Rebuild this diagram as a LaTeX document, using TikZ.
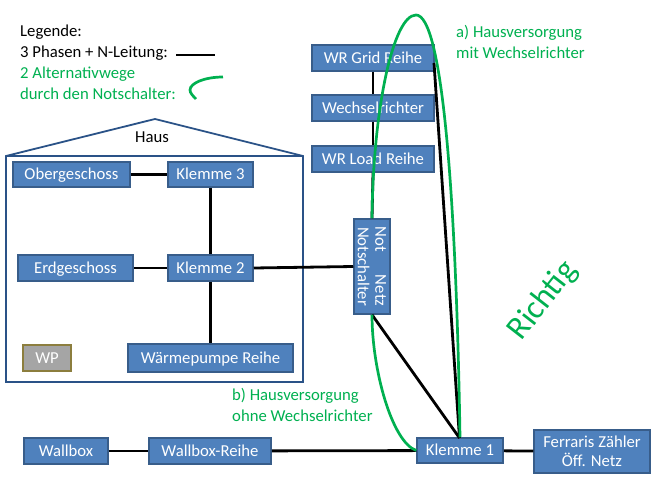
\documentclass[tikz,border=0pt]{standalone}
\usepackage{fontspec}
\setmainfont{Carlito}
\definecolor{boxfill}{HTML}{4F81BD}
\definecolor{boxline}{HTML}{385D8A}
\definecolor{houseline}{HTML}{2A5287}
\definecolor{grn}{HTML}{00B050}
\definecolor{wpfill}{HTML}{A5A5A5}
\definecolor{wpline}{HTML}{8C7E3E}
\tikzset{
  x=1pt,y=-1pt,
  bx/.style={draw=boxline,line width=1.5pt,fill=boxfill,text=white,inner sep=0pt,align=center,font=\fontsize{16.7}{18.5}\selectfont},
  bxone/.style={bx,execute at begin node={\rule[-3pt]{0pt}{16.6pt}}},
  wire/.style={black,line width=2.8pt},
  alt/.style={grn,line width=2.7pt},
  lbl/.style={anchor=west,inner sep=0pt,font=\fontsize{16.7}{20.5}\selectfont,align=left},
}
\begin{document}
\begin{tikzpicture}
\useasboundingbox (0,0) rectangle (666,500);
% house
\draw[houseline,line width=1.8pt,line join=miter] (6,156) -- (155,119) -- (303,156) -- (303,382) -- (6,382) -- cycle;
\draw[houseline,line width=1.8pt] (6,156) -- (303,156);
% free ends
\coordinate (gridout) at (434,63);
\coordinate (k1top) at (459.5,438);
\coordinate (legA) at (176,55);
\coordinate (legB) at (215,55);
\coordinate (leg1) at (223,77);
\coordinate (leg2) at (190,90);
\coordinate (leg3) at (196,99);
% boxes
\node[bxone,minimum width=122pt,minimum height=26pt] (grid) at (373,58) {WR Grid Reihe};
\node[bxone,minimum width=122pt,minimum height=26pt] (wr) at (373,108) {Wechselrichter};
\node[bxone,minimum width=122pt,minimum height=26pt] (load) at (373,159) {WR Load Reihe};
\node[bx,rotate=-90,minimum width=95pt,minimum height=36pt] (not) at (372,266.5) {Not\hspace{23pt}Netz\\[-1pt]Notschalter};
\node[bxone,minimum width=86pt,minimum height=25pt] (k1) at (460,450.5) {Klemme 1};
\node[bx,minimum width=116pt,minimum height=43pt] (ferraris) at (592,451.5) {Ferraris Zähler\\Öff. Netz};
\node[bxone,minimum width=84pt,minimum height=26pt] (wallbox) at (66,451) {Wallbox};
\node[bxone,minimum width=122pt,minimum height=26pt] (wbr) at (210,451) {Wallbox-Reihe};
\node[bxone,minimum width=117pt,minimum height=25pt] (og) at (71.5,174.5) {Obergeschoss};
\node[bxone,minimum width=85pt,minimum height=25pt] (k3) at (210.5,174.5) {Klemme 3};
\node[bxone,minimum width=115pt,minimum height=26pt] (eg) at (75.5,268) {Erdgeschoss};
\node[bxone,minimum width=85pt,minimum height=26pt] (k2) at (210.5,268) {Klemme 2};
\node[bxone,minimum width=165pt,minimum height=28pt] (wpr) at (210.5,358) {Wärmepumpe Reihe};
\node[bxone,draw=wpline,fill=wpfill,minimum width=48pt,minimum height=26pt] (wp) at (47,358) {WP};
% wires
\draw[wire] (og) -- (k3);
\draw[wire] (k3) -- (k2);
\draw[wire] (k2) -- (wpr);
\draw[wire] (eg) -- (k2);
\draw[wire] (k2.east) -- (not.south);
\draw[wire] (wallbox) -- (wbr);
\draw[wire] (wbr) -- (k1);
\draw[wire] (k1) -- (ferraris);
\draw[wire] (grid.south) -- (wr.north);
\draw[wire] (wr.south) -- (load.north);
\draw[wire] (load.south) -- (not.west);
\draw[wire] (gridout) -- (k1top);
\draw[wire] (not.east) -- (k1top);
\draw[wire] (legA) -- (legB);
% green curves
\draw[alt] (not.west) .. controls (373,110) and (393,15) .. (416,15) .. controls (442,15) and (456,190) .. (k1.north);
\draw[alt] (not.east) .. controls (372,370) and (392,442) .. (k1.west);
\draw[alt] (leg1) .. controls (205,77) and (190,83) .. (leg2) .. controls (190,93) and (193,96) .. (leg3);
% texts
\node[lbl] (t1) at (20,32) {Legende:};
\node[lbl] (t2) at (20,53) {3 Phasen + N-Leitung:};
\node[lbl,text=grn] (t3) at (20,83.5) {2 Alternativwege\\durch den Notschalter:};
\node[lbl,text=grn] (t4) at (456,42) {a) Hausversorgung\\mit Wechselrichter};
\node[lbl,text=grn] (t5) at (232,405) {b) Hausversorgung\\ohne Wechselrichter};
\node[inner sep=0pt,font=\fontsize{16.7}{18}\selectfont] (haus) at (152,137) {Haus};
\node[inner sep=0pt,text=grn,rotate=52,font=\fontsize{33}{36}\selectfont] (richtig) at (543,301) {Richtig};
\end{tikzpicture}
\end{document}
